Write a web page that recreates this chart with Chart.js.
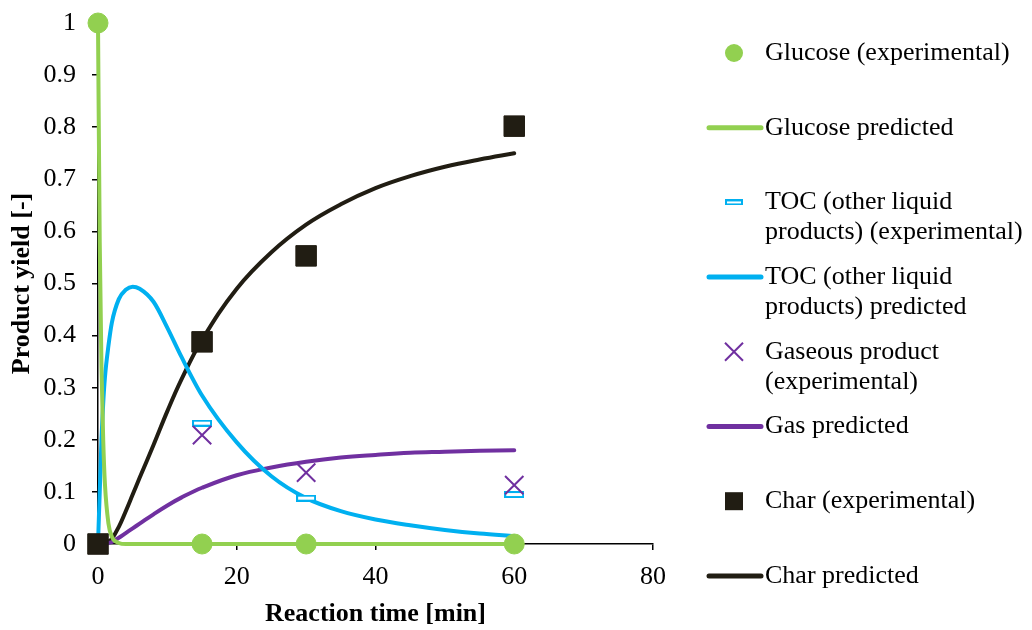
<!DOCTYPE html>
<html>
<head>
<meta charset="utf-8">
<script src="https://cdn.jsdelivr.net/npm/chart.js@4.4.1/dist/chart.umd.min.js"></script>
<style>
  html, body { margin: 0; padding: 0; background: #fff; }
  #wrap { width: 1032px; height: 630px; }
</style>
</head>
<body>
<div id="wrap"><canvas id="yieldChart" width="1032" height="630"></canvas></div>
<script>
'use strict';

// experimental points
const expTimes = [0, 15, 30, 60];
const glucoseExp = [1, 0, 0, 0];
const tocExp = [0, 0.232, 0.088, 0.095];
const gasExp = [0, 0.209, 0.137, 0.113];
const charExp = [0, 0.388, 0.553, 0.802];

// model curves
const predTimes = [0, 0.25, 0.5, 0.75, 1, 1.5, 2, 3, 4, 5, 6, 8, 10, 12, 15, 20, 25, 30, 35, 40, 45, 50, 55, 60];
const glucosePred = [1, 0.58, 0.34, 0.2, 0.115, 0.04, 0.014, 0.002, 0, 0, 0, 0, 0, 0, 0, 0, 0, 0, 0, 0, 0, 0, 0, 0];
const tocPred = [0, 0.1, 0.2, 0.27, 0.32, 0.38, 0.425, 0.47, 0.488, 0.494, 0.49, 0.465, 0.415, 0.36, 0.285, 0.195, 0.13, 0.088, 0.063, 0.047, 0.036, 0.027, 0.02, 0.015];
const gasPred = [0, 0, 0, 0, 0.001, 0.002, 0.004, 0.012, 0.021, 0.03, 0.039, 0.057, 0.074, 0.089, 0.108, 0.132, 0.147, 0.158, 0.166, 0.171, 0.175, 0.177, 0.179, 0.18];
const charPred = [0, 0, 0, 0.001, 0.002, 0.005, 0.01, 0.033, 0.063, 0.095, 0.127, 0.19, 0.255, 0.315, 0.392, 0.49, 0.56, 0.613, 0.652, 0.683, 0.706, 0.724, 0.738, 0.75];

const xTickLabels = ['0', '20', '40', '60', '80'];
const yTickLabels = ['0', '0.1', '0.2', '0.3', '0.4', '0.5', '0.6', '0.7', '0.8', '0.9', '1'];

const GREEN = '#92D050';
const BLUE = '#00B0F0';
const PURPLE = '#7030A0';
const DARK = '#211D13';
const FONT = "'Liberation Serif', 'Times New Roman', serif";

// little outlined dash used for the TOC points
function makeDash(w, h) {
    const c = document.createElement('canvas');
    c.width = w; c.height = h;
    const g = c.getContext('2d');
    g.fillStyle = '#fff';
    g.fillRect(1, 1, w - 2, h - 2);
    g.strokeStyle = BLUE;
    g.lineWidth = 2;
    g.strokeRect(1, 1, w - 2, h - 2);
    return c;
}
const tocDash = makeDash(20, 7);
const tocDashSmall = makeDash(18, 6);

const pts = (xs, ys) => xs.map((x, i) => ({ x: x, y: ys[i] }));

function expSet(label, ys, order, style) {
    return Object.assign({
        label: label,
        data: pts(expTimes, ys),
        showLine: false,
        order: order,
        clip: false
    }, style);
}
function predSet(label, ys, color, smooth) {
    const ds = {
        label: label,
        data: pts(predTimes, ys),
        borderColor: color,
        backgroundColor: color,
        borderWidth: 4,
        borderCapStyle: 'round',
        pointRadius: 0,
        order: 5,
        clip: false,
        kind: 'line'
    };
    if (smooth) ds.tension = 0.4;
    else ds.cubicInterpolationMode = 'monotone';
    return ds;
}

// higher order is drawn first, so the char squares end up on top
const datasets = [
    expSet(['Glucose (experimental)'], glucoseExp, 2, {
        pointStyle: 'circle', pointRadius: 10, pointBackgroundColor: GREEN, pointBorderColor: GREEN, pointBorderWidth: 1
    }),
    predSet(['Glucose predicted'], glucosePred, GREEN, false),
    expSet(['TOC (other liquid', 'products) (experimental)'], tocExp, 3, {
        pointStyle: tocDash, pointRadius: 10
    }),
    predSet(['TOC (other liquid', 'products) predicted'], tocPred, BLUE, false),
    expSet(['Gaseous product', '(experimental)'], gasExp, 2, {
        pointStyle: 'crossRot', pointRadius: 13, pointBorderColor: PURPLE, pointBorderWidth: 2
    }),
    predSet(['Gas predicted'], gasPred, PURPLE, true),
    expSet(['Char (experimental)'], charExp, 0, {
        pointStyle: 'rect', pointRadius: 14.5, pointBackgroundColor: DARK, pointBorderColor: DARK, pointBorderWidth: 1
    }),
    predSet(['Char predicted'], charPred, DARK, true)
];

// legend on the right, drawn by hand so labels can wrap
const sideLegend = {
    id: 'sideLegend',
    afterDraw(chart) {
        const ctx = chart.ctx;
        ctx.save();
        ctx.font = '26px ' + FONT;
        ctx.textBaseline = 'middle';
        ctx.fillStyle = '#000';
        chart.data.datasets.forEach((ds, i) => {
            const y = 53 + i * 74.7;
            const mx = 734;
            if (ds.kind === 'line') {
                ctx.strokeStyle = ds.borderColor;
                ctx.lineWidth = 5;
                ctx.lineCap = 'round';
                ctx.beginPath();
                ctx.moveTo(709, y);
                ctx.lineTo(761, y);
                ctx.stroke();
            } else if (ds.pointStyle === 'circle') {
                ctx.fillStyle = GREEN;
                ctx.beginPath();
                ctx.arc(mx, y, 9, 0, Math.PI * 2);
                ctx.fill();
            } else if (ds.pointStyle === 'rect') {
                ctx.fillStyle = DARK;
                ctx.fillRect(mx - 9, y - 9, 18, 18);
            } else if (ds.pointStyle === 'crossRot') {
                ctx.strokeStyle = PURPLE;
                ctx.lineWidth = 2;
                ctx.lineCap = 'butt';
                ctx.beginPath();
                ctx.moveTo(mx - 9, y - 9); ctx.lineTo(mx + 9, y + 9);
                ctx.moveTo(mx + 9, y - 9); ctx.lineTo(mx - 9, y + 9);
                ctx.stroke();
            } else {
                ctx.drawImage(tocDashSmall, mx - 9, y - 3);
            }
            ctx.fillStyle = '#000';
            ds.label.forEach((line, j) => ctx.fillText(line, 765, y + j * 30));
        });
        ctx.restore();
    }
};

new Chart(document.getElementById('yieldChart'), {
    type: 'line',
    data: { datasets: datasets },
    plugins: [sideLegend],
    options: {
        responsive: false,
        animation: false,
        devicePixelRatio: 1,
        layout: { padding: { left: 0, top: 23, right: 379, bottom: 0 } },
        plugins: { legend: { display: false }, tooltip: { enabled: false } },
        scales: {
            x: {
                type: 'linear',
                min: 0, max: 80,
                afterBuildTicks: s => { s.ticks = xTickLabels.map(v => ({ value: Number(v) })); },
                afterFit: s => { s.height = 630 - 544; s.paddingRight = 0; s.paddingLeft = 0; },
                ticks: {
                    callback: (v, i) => xTickLabels[i],
                    color: '#000', font: { family: FONT, size: 26 }, padding: 12, maxRotation: 0
                },
                grid: { drawOnChartArea: false, drawTicks: true, tickLength: 6, color: '#000', lineWidth: 1.5 },
                border: { display: true, color: '#000', width: 1.5 },
                title: {
                    display: true, text: 'Reaction time [min]', color: '#000',
                    font: { family: FONT, size: 26, weight: 'bold' }, padding: { top: 0, bottom: 0 }
                }
            },
            y: {
                type: 'linear',
                min: 0, max: 1,
                afterBuildTicks: s => { s.ticks = yTickLabels.map(v => ({ value: Number(v) })); },
                afterFit: s => { s.width = 98; s.paddingTop = 0; s.paddingBottom = 0; },
                ticks: {
                    callback: (v, i) => yTickLabels[i],
                    color: '#000', font: { family: FONT, size: 26 }, padding: 16
                },
                grid: { drawOnChartArea: false, drawTicks: true, tickLength: 6, color: '#000', lineWidth: 1.5 },
                border: { display: true, color: '#000', width: 1.5 },
                title: {
                    display: true, text: 'Product yield [-]', color: '#000',
                    font: { family: FONT, size: 26, weight: 'bold' }, padding: { top: 7, bottom: 0 }
                }
            }
        }
    }
});
</script>
</body>
</html>
